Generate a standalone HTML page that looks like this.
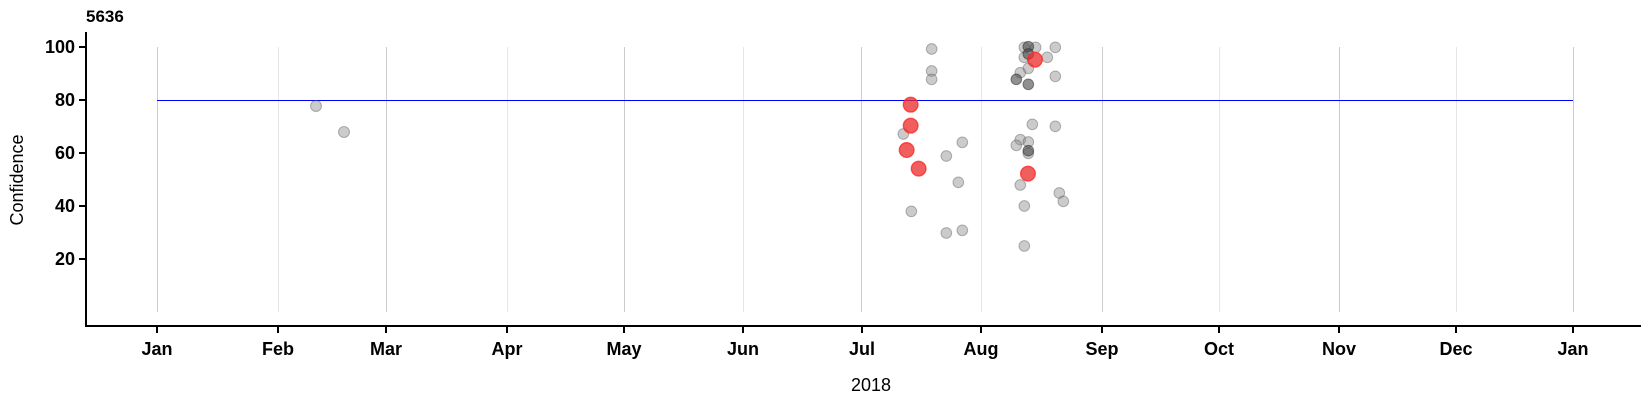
<!DOCTYPE html>
<html><head><style>body{margin:0;background:#fff}svg{display:block}text{font-family:"Liberation Sans",Arial,sans-serif}</style></head>
<body>
<svg width="1650" height="400" viewBox="0 0 1650 400" xmlns="http://www.w3.org/2000/svg">
<g stroke-width="1">
<line x1="157.5" y1="47" x2="157.5" y2="312" stroke="#cccccc"/>
<line x1="278.5" y1="47" x2="278.5" y2="312" stroke="#e6e6e6"/>
<line x1="386.5" y1="47" x2="386.5" y2="312" stroke="#cccccc"/>
<line x1="507.5" y1="47" x2="507.5" y2="312" stroke="#e6e6e6"/>
<line x1="624.5" y1="47" x2="624.5" y2="312" stroke="#cccccc"/>
<line x1="743.5" y1="47" x2="743.5" y2="312" stroke="#e6e6e6"/>
<line x1="861.5" y1="47" x2="861.5" y2="312" stroke="#cccccc"/>
<line x1="981.5" y1="47" x2="981.5" y2="312" stroke="#e6e6e6"/>
<line x1="1102.5" y1="47" x2="1102.5" y2="312" stroke="#cccccc"/>
<line x1="1219.5" y1="47" x2="1219.5" y2="312" stroke="#e6e6e6"/>
<line x1="1339.5" y1="47" x2="1339.5" y2="312" stroke="#cccccc"/>
<line x1="1456.5" y1="47" x2="1456.5" y2="312" stroke="#e6e6e6"/>
<line x1="1573.5" y1="47" x2="1573.5" y2="312" stroke="#cccccc"/>
</g>
<line x1="157" y1="100.5" x2="1573" y2="100.5" stroke="#0000ff" stroke-width="1"/>
<g stroke="#000" stroke-width="2" fill="none">
<path d="M86 32 V326 H1641"/>
<path d="M79 47H86M79 100H86M79 153H86M79 206H86M79 259H86"/>
<path d="M157 326v7M278 326v7M386 326v7M507 326v7M624 326v7M743 326v7M862 326v7M981 326v7M1102 326v7M1219 326v7M1339 326v7M1456 326v7M1573 326v7"/>
</g>
<g font-weight="bold" font-size="18" text-anchor="end" fill="#000">
<text x="75" y="53">100</text><text x="75" y="106">80</text><text x="75" y="159">60</text><text x="75" y="212">40</text><text x="75" y="265">20</text>
</g>
<g font-weight="bold" font-size="18" text-anchor="middle" fill="#000">
<text x="157" y="355">Jan</text><text x="278" y="355">Feb</text><text x="386" y="355">Mar</text><text x="507" y="355">Apr</text><text x="624" y="355">May</text><text x="743" y="355">Jun</text><text x="862" y="355">Jul</text><text x="981" y="355">Aug</text><text x="1102" y="355">Sep</text><text x="1219" y="355">Oct</text><text x="1339" y="355">Nov</text><text x="1456" y="355">Dec</text><text x="1573" y="355">Jan</text>
</g>
<text x="86" y="22" font-weight="bold" font-size="17">5636</text>
<text x="871" y="391" font-size="18" text-anchor="middle">2018</text>
<text transform="translate(23,180) rotate(-90)" font-size="18" text-anchor="middle">Confidence</text>
<g fill="rgba(140,140,140,0.45)" stroke="rgba(80,80,80,0.4)" stroke-width="1">
<circle cx="316" cy="106" r="5.5"/><circle cx="344" cy="132" r="5.5"/>
</g>
<g transform="translate(800,30) scale(0.3333)">
<g fill="rgba(140,140,140,0.45)" stroke="rgba(80,80,80,0.4)" stroke-width="3">
<circle cx="395" cy="57" r="16"/><circle cx="395" cy="123" r="16"/><circle cx="395" cy="148" r="16"/><circle cx="310" cy="312" r="16"/><circle cx="487" cy="337" r="16"/><circle cx="439" cy="378" r="16"/><circle cx="475" cy="457" r="16"/><circle cx="334" cy="544" r="16"/><circle cx="439" cy="609" r="16"/><circle cx="487" cy="601" r="16"/>
<circle cx="673" cy="52" r="16"/><circle cx="707" cy="52" r="16"/><circle cx="766" cy="52" r="16"/><circle cx="673" cy="82" r="16"/><circle cx="742" cy="82" r="16"/><circle cx="685" cy="115" r="16"/><circle cx="661" cy="128" r="16"/><circle cx="766" cy="139" r="16"/><circle cx="697" cy="283" r="16"/><circle cx="766" cy="289" r="16"/><circle cx="661" cy="329" r="16"/><circle cx="685" cy="336" r="16"/><circle cx="649" cy="346" r="16"/><circle cx="685" cy="370" r="16"/><circle cx="661" cy="465" r="16"/><circle cx="778" cy="489" r="16"/><circle cx="790" cy="514" r="16"/><circle cx="673" cy="528" r="16"/><circle cx="673" cy="648" r="16"/>
</g>
<g fill="rgba(70,70,70,0.6)" stroke="rgba(40,40,40,0.5)" stroke-width="3">
<circle cx="685" cy="50" r="16"/><circle cx="685" cy="72" r="16"/><circle cx="649" cy="148" r="16"/><circle cx="685" cy="163" r="16"/><circle cx="685" cy="362" r="16"/>
</g>
<g fill="rgba(235,40,40,0.75)" stroke="rgba(255,40,40,0.8)" stroke-width="4">
<circle cx="332" cy="224" r="22"/><circle cx="332" cy="287" r="22"/><circle cx="320" cy="360" r="22"/><circle cx="356" cy="416" r="22"/><circle cx="684" cy="431" r="22"/><circle cx="705" cy="89" r="22"/>
</g>
</g>
</svg>
</body></html>
